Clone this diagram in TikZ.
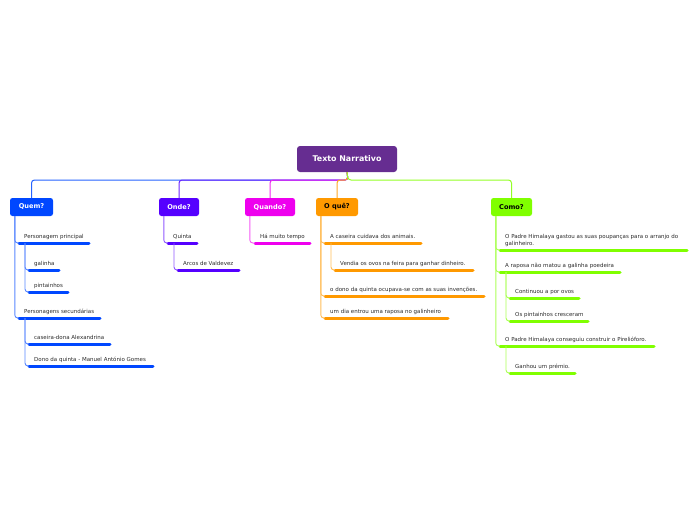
\documentclass[tikz,border=0pt]{standalone}
\usepackage{fontspec}
\setmainfont{DejaVu Sans}
\usetikzlibrary{calc}
\definecolor{croot}{HTML}{662D91}
\definecolor{cquem}{HTML}{0047FF}
\definecolor{conde}{HTML}{5500FF}
\definecolor{cquando}{HTML}{EE00EE}
\definecolor{coque}{HTML}{FF9900}
\definecolor{ccomo}{HTML}{80FF00}
\definecolor{ctext}{HTML}{2A2A2A}
\tikzset{
  root/.style={fill=croot, text=white, rounded corners=3pt, font=\bfseries\fontsize{7.9}{9}\selectfont, minimum width=100pt, minimum height=26pt, inner sep=0pt},
  topic/.style={fill=#1, rounded corners=2.5pt, font=\bfseries\fontsize{6.6}{8}\selectfont, minimum height=18pt, inner xsep=7pt, inner ysep=0pt},
  link/.style={draw=#1!65, line width=0.9pt, rounded corners=3pt},
  toplink/.style={draw=#1!85, line width=1pt, rounded corners=3pt},
  bar/.style={draw=#1, line width=3pt, line cap=round},
  leaftext/.style={text=ctext, font=\fontsize{5.5}{6.5}\selectfont, inner sep=0pt, align=left},
}
% leaf: name, colour, x, y, end x, text
\newcommand{\leaf}[6]{%
  \coordinate (#1) at (#3,#4);
  \draw[bar=#2] (#1) -- (#5,#4);
  \node[leaftext, anchor=base west] (#1-t) at ($(#1)+(5,-5)$) {#6};
}

\begin{document}
\begin{tikzpicture}[x=1pt, y=-1pt]
  \useasboundingbox (0,0) rectangle (696,520);
  % root and main topics
  \node[root] (root) at (347,159) {Texto Narrativo};
  \node[topic=cquem, text=white, minimum width=43pt] (quem) at (31.5,207) {Quem?};
  \node[topic=conde, text=white, minimum width=40pt] (onde) at (179,207) {Onde?};
  \node[topic=cquando, text=white, minimum width=50pt] (quando) at (270,207) {Quando?};
  \node[topic=coque, text=black, minimum width=42pt] (oque) at (337,207) {O quê?};
  \node[topic=ccomo, text=black, minimum width=41pt] (como) at (511.5,207) {Como?};
  \coordinate (hub) at (348,180);
  \foreach \t/\c in {quem/cquem, onde/conde, quando/cquando, oque/coque, como/ccomo}
    \draw[toplink=\c] (root.south) -- (hub) -| (\t.north);
  % Quem?
  \leaf{pp}{cquem}{19}{243}{89}{Personagem principal}
  \leaf{gal}{cquem}{29}{270}{59}{galinha}
  \leaf{pin}{cquem}{29}{292}{68}{pintainhos}
  \leaf{ps}{cquem}{19}{318}{100}{Personagens secundárias}
  \leaf{cas}{cquem}{29}{344}{110}{caseira-dona Alexandrina}
  \leaf{dono}{cquem}{29}{366}{153}{Dono da quinta - Manuel António Gomes}
  \foreach \l in {pp, ps}
    \draw[link=cquem] ($(quem.south west)+(5,0)$) |- (\l);
  \foreach \l in {gal, pin}
    \draw[link=cquem] ($(pp)+(6,0)$) |- (\l);
  \foreach \l in {cas, dono}
    \draw[link=cquem] ($(ps)+(6,0)$) |- (\l);
  % Onde?
  \leaf{qta}{conde}{168}{243}{197}{Quinta}
  \leaf{arc}{conde}{178}{270}{239}{Arcos de Valdevez}
  \draw[link=conde] ($(onde.south west)+(5,0)$) |- (qta);
  \draw[link=conde] ($(qta)+(6,0)$) |- (arc);
  % Quando?
  \leaf{hmt}{cquando}{255}{243}{310}{Há muito tempo}
  \draw[link=cquando] ($(quando.south west)+(5,0)$) |- (hmt);
  % O quê?
  \leaf{cui}{coque}{325}{243}{421}{A caseira cuidava dos animais.}
  \leaf{ven}{coque}{335}{270}{473}{Vendia os ovos na feira para ganhar dinheiro.}
  \leaf{inv}{coque}{325}{296}{484}{o dono da quinta ocupava-se com as suas invenções.}
  \leaf{rap}{coque}{325}{318}{448}{um dia entrou uma raposa no galinheiro}
  \foreach \l in {cui, inv, rap}
    \draw[link=coque] ($(oque.south west)+(5,0)$) |- (\l);
  \draw[link=coque] ($(cui)+(6,0)$) |- (ven);
  % Como?
  \leaf{gas}{ccomo}{500}{250}{687}{O Padre Himalaya gastou as suas poupanças para o arranjo do\\galinheiro.}
  \leaf{nao}{ccomo}{500}{272}{620}{A raposa não matou a galinha poedeira}
  \leaf{con}{ccomo}{510}{298}{579}{Continuou a por ovos}
  \leaf{cre}{ccomo}{510}{321}{588}{Os pintainhos cresceram}
  \leaf{pir}{ccomo}{500}{346}{654}{O Padre Himalaya conseguiu construir o Pirelióforo.}
  \leaf{pre}{ccomo}{510}{373}{575}{Ganhou um prémio.}
  \foreach \l in {gas, nao, pir}
    \draw[link=ccomo] ($(como.south west)+(5,0)$) |- (\l);
  \foreach \l in {con, cre}
    \draw[link=ccomo] ($(nao)+(6,0)$) |- (\l);
  \draw[link=ccomo] ($(pir)+(6,0)$) |- (pre);
\end{tikzpicture}
\end{document}
